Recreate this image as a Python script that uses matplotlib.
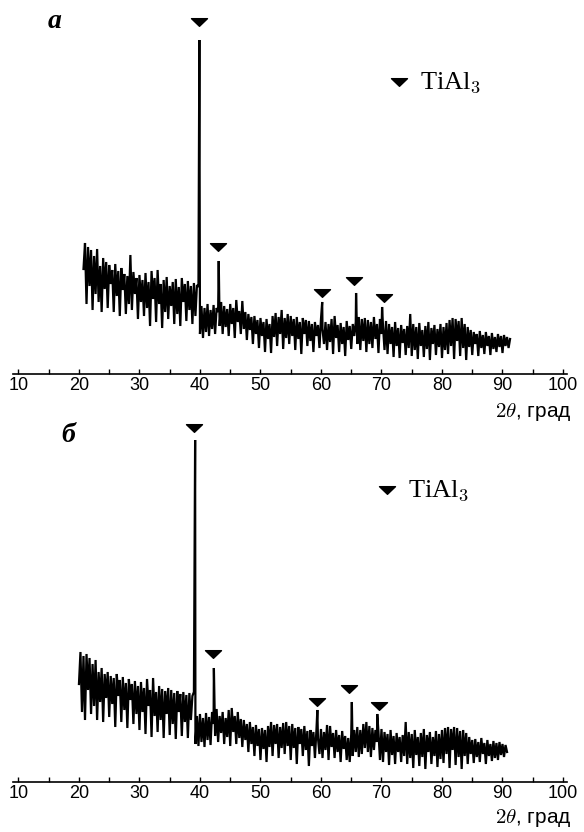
import numpy as np
import matplotlib.pyplot as plt
from matplotlib.path import Path

plt.rcParams['mathtext.fontset'] = 'cm'

# --- panel а : background counts on a 0.25 deg grid starting at 20.75 deg
start_a = 20.75
bg_a = [
    105, 131, 70, 127, 88, 124, 64, 118, 80, 125, 72, 108, 62, 116, 85, 112, 66, 109, 90, 104,
    62, 110, 78, 103, 58, 106, 84, 100, 60, 98, 70, 119, 64, 102, 80, 96, 55, 99, 72, 94,
    58, 101, 66, 92, 48, 103, 75, 96, 52, 104, 70, 90, 46, 94, 62, 97, 55, 88, 68, 92,
    50, 95, 60, 87, 48, 96, 72, 90, 53, 93, 64, 88, 50, 91, 58, 89, 87, 40, 68, 36,
    66, 42, 70, 38, 64, 45, 69, 40, 66, 62, 48, 72, 40, 68, 47, 65, 38, 70, 50, 66,
    36, 74, 52, 63, 40, 73, 45, 62, 34, 60, 44, 57, 30, 58, 40, 54, 26, 56, 38, 52,
    22, 55, 35, 50, 21, 58, 37, 61, 28, 57, 40, 64, 25, 56, 36, 60, 30, 58, 38, 55,
    24, 57, 35, 52, 20, 56, 40, 54, 28, 53, 33, 50, 22, 52, 38, 49, 26, 55, 45, 30,
    52, 24, 50, 32, 55, 20, 58, 36, 49, 22, 51, 30, 47, 18, 53, 34, 48, 25, 50, 38,
    52, 30, 57, 24, 55, 33, 56, 22, 54, 30, 52, 26, 57, 35, 50, 21, 55, 40, 48, 24,
    53, 20, 50, 30, 47, 17, 52, 28, 46, 16, 49, 31, 45, 19, 48, 26, 60, 18, 50, 24,
    47, 15, 51, 28, 44, 17, 48, 25, 52, 14, 46, 30, 49, 19, 45, 27, 50, 16, 47, 24,
    51, 20, 54, 28, 56, 15, 55, 33, 53, 18, 56, 26, 50, 14, 47, 27, 44, 19, 42, 30,
    40, 18, 43, 26, 39, 20, 42, 28, 38, 19, 41, 25, 37, 22, 40, 27, 38, 21, 39, 28,
    37, 26, 35,
]
peak_pos_a = [39.9, 43.1, 60.2, 65.8, 70.1]
peak_int_a = [334, 113, 72, 81, 67]
mark_pos_a = [39.8, 42.9, 60.1, 65.45, 70.4]
mark_int_a = [352, 127, 81, 93, 76]

# --- panel б : grid starts at 20.0 deg
start_b = 20.0
bg_b = [
    98, 130, 70, 126, 62, 128, 92, 124, 68, 118, 76, 122, 62, 110, 80, 114, 60, 108, 84, 110,
    65, 106, 78, 104, 55, 108, 86, 102, 60, 105, 72, 99, 54, 103, 82, 98, 58, 101, 68, 96,
    52, 100, 70, 94, 48, 103, 76, 92, 45, 104, 66, 90, 50, 96, 62, 93, 44, 91, 68, 94,
    47, 92, 58, 89, 43, 91, 70, 88, 46, 90, 60, 87, 44, 89, 62, 86, 90, 38, 66, 36,
    68, 40, 64, 35, 69, 42, 65, 37, 70, 58, 46, 73, 40, 66, 49, 70, 38, 64, 45, 72,
    36, 74, 50, 66, 38, 70, 44, 63, 35, 62, 42, 58, 30, 60, 38, 55, 26, 57, 36, 53,
    22, 54, 33, 52, 20, 56, 35, 60, 26, 57, 38, 58, 24, 55, 34, 59, 28, 60, 36, 56,
    22, 58, 34, 54, 18, 55, 38, 53, 26, 56, 32, 51, 16, 52, 36, 50, 24, 52, 44, 28,
    53, 24, 50, 32, 57, 22, 56, 35, 49, 24, 52, 30, 47, 20, 51, 33, 46, 22, 44, 20,
    48, 26, 52, 30, 55, 25, 52, 28, 58, 34, 60, 30, 56, 25, 54, 32, 52, 40, 50, 22,
    53, 20, 50, 30, 48, 17, 52, 27, 46, 18, 49, 30, 45, 20, 47, 26, 60, 18, 50, 24,
    48, 14, 52, 27, 45, 16, 49, 25, 53, 13, 47, 30, 50, 18, 45, 26, 51, 15, 48, 23,
    52, 19, 54, 28, 55, 14, 53, 32, 55, 17, 54, 25, 51, 13, 52, 26, 49, 18, 45, 28,
    42, 19, 43, 25, 40, 20, 44, 28, 39, 18, 42, 26, 38, 21, 41, 24, 39, 22, 40, 27,
    38, 25, 37, 30,
]
peak_pos_b = [39.2, 42.3, 59.4, 65.1, 69.3]
peak_int_b = [342, 114, 72, 80, 68]
mark_pos_b = [39.0, 42.2, 59.3, 64.7, 69.6]
mark_int_b = [354, 128, 80, 93, 76]

major_ticks = np.arange(10, 101, 10)
minor_ticks = np.arange(15, 100, 10)

# flat downward triangle used for the phase marks
tri = Path([(-1, 0.48), (1, 0.48), (0, -0.48), (-1, 0.48)],
           [Path.MOVETO, Path.LINETO, Path.LINETO, Path.CLOSEPOLY])

W, H = 584, 832
fig = plt.figure(figsize=(W / 100, H / 100), dpi=100)


def px_box(x0, y_top, x1, y_bot):
    return [x0 / W, 1 - y_bot / H, (x1 - x0) / W, (y_bot - y_top) / H]


def draw_panel(ax, start, bg, ppos, pint, mpos, mint, ytop):
    tt = start + 0.25 * np.arange(len(bg))
    x = np.concatenate([tt, ppos])
    y = np.concatenate([bg, pint])
    order = np.argsort(x)
    ax.plot(x[order], y[order], color='black', lw=1.6, solid_joinstyle='miter')
    ax.plot(mpos, mint, linestyle='none', marker=tri, ms=11.5,
            color='black', clip_on=False)
    ax.set_xlim(9.1, 100.66)
    ax.set_ylim(0, ytop)
    for s in ['top', 'left', 'right']:
        ax.spines[s].set_visible(False)
    ax.spines['bottom'].set_linewidth(1.2)
    ax.set_yticks([])
    ax.set_xticks(major_ticks)
    ax.set_xticks(minor_ticks, minor=True)
    ax.tick_params(axis='x', which='both', direction='in', length=3.8,
                   width=1.0, pad=2, labelsize=13)
    for lab in ax.get_xticklabels():
        lab.set_family('Liberation Sans')


ax_a = fig.add_axes(px_box(13, 10, 567, 374))
draw_panel(ax_a, start_a, bg_a, peak_pos_a, peak_int_a, mark_pos_a, mark_int_a, 364)
ax_b = fig.add_axes(px_box(13, 420, 567, 782))
draw_panel(ax_b, start_b, bg_b, peak_pos_b, peak_int_b, mark_pos_b, mark_int_b, 362)

# axis titles, panel letters and legend entries
for y_lab in [412, 818]:
    fig.text(572 / W, 1 - y_lab / H, r'$2\theta$, град', ha='right', va='center',
             fontsize=15, family='Liberation Sans')

fig.text(55 / W, 1 - 22 / H, 'а', ha='center', va='center', fontsize=20,
         family='Liberation Serif', style='italic', weight='bold')
fig.text(68 / W, 1 - 436 / H, 'б', ha='center', va='center', fontsize=20,
         family='Liberation Serif', style='italic', weight='bold')

for (mx, my, tx) in [(399, 82, 420), (387, 490, 408)]:
    fig.lines.append(plt.Line2D([mx / W], [1 - my / H], transform=fig.transFigure,
                                linestyle='none', marker=tri, ms=11.5, color='black'))
    fig.text(tx / W, 1 - (my + 1) / H, r'TiAl$_3$', ha='left', va='center',
             fontsize=19, family='Liberation Serif')

fig.savefig('out.png', dpi=100)
